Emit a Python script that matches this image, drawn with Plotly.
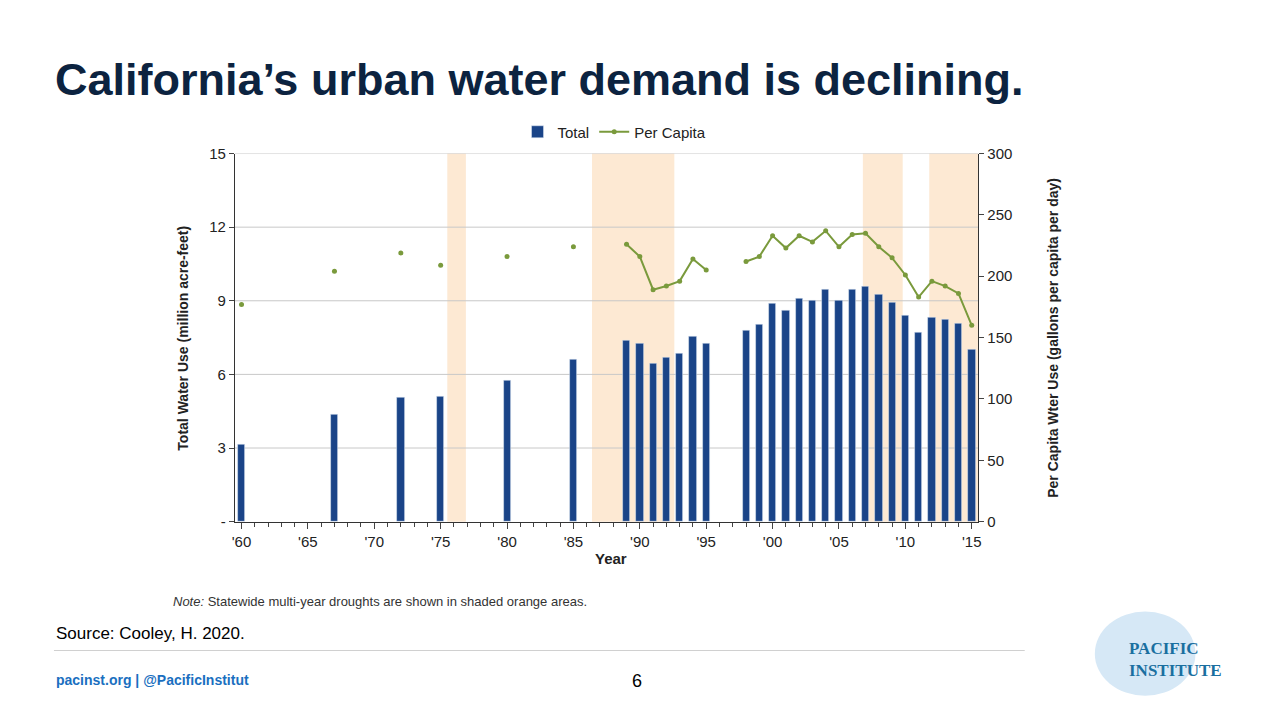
import plotly.graph_objects as go

years = list(range(1960, 2016))
total = {1960: 3.14, 1967: 4.38, 1972: 5.05, 1975: 5.1, 1980: 5.77, 1985: 6.6,
         1989: 7.36, 1990: 7.24, 1991: 6.45, 1992: 6.68, 1993: 6.85, 1994: 7.56, 1995: 7.24,
         1998: 7.8, 1999: 8.04, 2000: 8.87, 2001: 8.6, 2002: 9.11, 2003: 8.99, 2004: 9.47,
         2005: 9.03, 2006: 9.47, 2007: 9.59, 2008: 9.27, 2009: 8.91, 2010: 8.4, 2011: 7.72,
         2012: 8.32, 2013: 8.24, 2014: 8.08, 2015: 7.0}
per_capita = {1960: 177, 1967: 204, 1972: 219, 1975: 209, 1980: 216, 1985: 224,
              1989: 226, 1990: 216, 1991: 189, 1992: 192, 1993: 196, 1994: 214, 1995: 205,
              1998: 212, 1999: 216, 2000: 233, 2001: 223, 2002: 233, 2003: 228, 2004: 237,
              2005: 224, 2006: 234, 2007: 235, 2008: 224, 2009: 215, 2010: 201, 2011: 183,
              2012: 196, 2013: 192, 2014: 186, 2015: 160}
droughts = [(1975.5, 1976.9), (1986.4, 1992.6), (2006.8, 2009.8), (2011.8, 2015.5)]
tick_vals = [1960, 1965, 1970, 1975, 1980, 1985, 1990, 1995, 2000, 2005, 2010, 2015]
tick_text = ["'60", "'65", "'70", "'75", "'80", "'85", "'90", "'95", "'00", "'05", "'10", "'15"]

navy = "#1a4488"
green = "#7a9a3c"

fig = go.Figure()
fig.add_trace(go.Bar(x=list(total.keys()), y=list(total.values()), name="Total",
                     marker_color=navy, width=0.55))
fig.add_trace(go.Scatter(x=years, y=[per_capita.get(y) for y in years], name="Per Capita",
                         yaxis="y2", mode="lines+markers", connectgaps=False,
                         line=dict(color=green, width=2), marker=dict(size=5, color=green)))

shapes = []
for a, b in droughts:
    shapes.append(dict(type="rect", xref="x", yref="paper", x0=a, x1=b, y0=0.2708, y1=0.7944,
                       fillcolor="#fde9d3", line_width=0, layer="below"))
for g in [3, 6, 9, 12, 15]:
    shapes.append(dict(type="line", xref="paper", yref="y", x0=0.182, x1=0.7656, y0=g, y1=g,
                       line=dict(color="#c8c8c8", width=1), layer="below"))
shapes.append(dict(type="line", xref="paper", yref="paper", x0=0.04, x1=0.802, y0=0.0875, y1=0.0875,
                   line=dict(color="#d0d0d0", width=1)))
shapes.append(dict(type="circle", xref="paper", yref="paper", x0=0.857, x1=0.936, y0=0.023, y1=0.143,
                   fillcolor="#d6e8f6", line_width=0, layer="below"))

font = "Liberation Sans, Arial, sans-serif"
ann = [
    dict(text="<b>California’s urban water demand is declining.</b>", x=0.039, y=0.9, xanchor="left",
         font=dict(size=45, color="#0c2340")),
    dict(text="<i>Note:</i> Statewide multi-year droughts are shown in shaded orange areas.", x=0.132, y=0.157,
         xanchor="left", font=dict(size=13, color="#333")),
    dict(text="Source: Cooley, H. 2020.", x=0.04, y=0.111, xanchor="left", font=dict(size=17, color="#000")),
    dict(text="<b>pacinst.org | @PacificInstitut</b>", x=0.04, y=0.046, xanchor="left",
         font=dict(size=14, color="#1a6fc0")),
    dict(text="6", x=0.498, y=0.044, font=dict(size=18, color="#000")),
    dict(text="<b>PACIFIC<br>INSTITUTE</b>", x=0.882, y=0.075, xanchor="left", align="left",
         font=dict(size=17, color="#1a6fa0", family="Liberation Serif, serif")),
    dict(text="<b>Year</b>", x=0.477, y=0.219, font=dict(size=15, color="#222")),
    dict(text="<b>Total Water Use (million acre-feet)</b>", x=0.141, y=0.532, textangle=-90,
         font=dict(size=14, color="#222")),
    dict(text="<b>Per Capita Wter Use (gallons per capita per day)</b>", x=0.824, y=0.532, textangle=-90,
         font=dict(size=14, color="#222")),
]
for a in ann:
    a.update(xref="paper", yref="paper", showarrow=False)
    a.setdefault("xanchor", "center")
    a["yanchor"] = "middle"

fig.update_layout(
    width=1280, height=720, margin=dict(l=0, r=0, t=0, b=0),
    paper_bgcolor="white", plot_bgcolor="white", font=dict(family=font, color="#222"),
    showlegend=True,
    legend=dict(orientation="h", x=0.48, y=0.825, xanchor="center", yanchor="middle", font=dict(size=15)),
    xaxis=dict(domain=[0.182, 0.7656], range=[1959.5, 2015.5], tickvals=tick_vals, ticktext=tick_text,
               ticks="outside", ticklen=6, showgrid=False, showline=True, linecolor="#333",
               tickfont=dict(size=15), minor=dict(dtick=1, ticks="outside", ticklen=4, tick0=1960)),
    yaxis=dict(domain=[0.2708, 0.7944], range=[0, 15], tickvals=[0, 3, 6, 9, 12, 15],
               ticktext=["-", "3", "6", "9", "12", "15"], ticks="outside", showgrid=False,
               showline=True, linecolor="#333", tickfont=dict(size=15), zeroline=False),
    yaxis2=dict(overlaying="y", side="right", range=[0, 300], dtick=50, ticks="outside",
                showgrid=False, showline=True, linecolor="#333", tickfont=dict(size=15), zeroline=False),
    shapes=shapes, annotations=ann, bargap=0,
)
fig.write_html("out.html", config={"displayModeBar": False},
               post_script="document.body.style.margin='0';document.body.style.overflow='hidden';")
